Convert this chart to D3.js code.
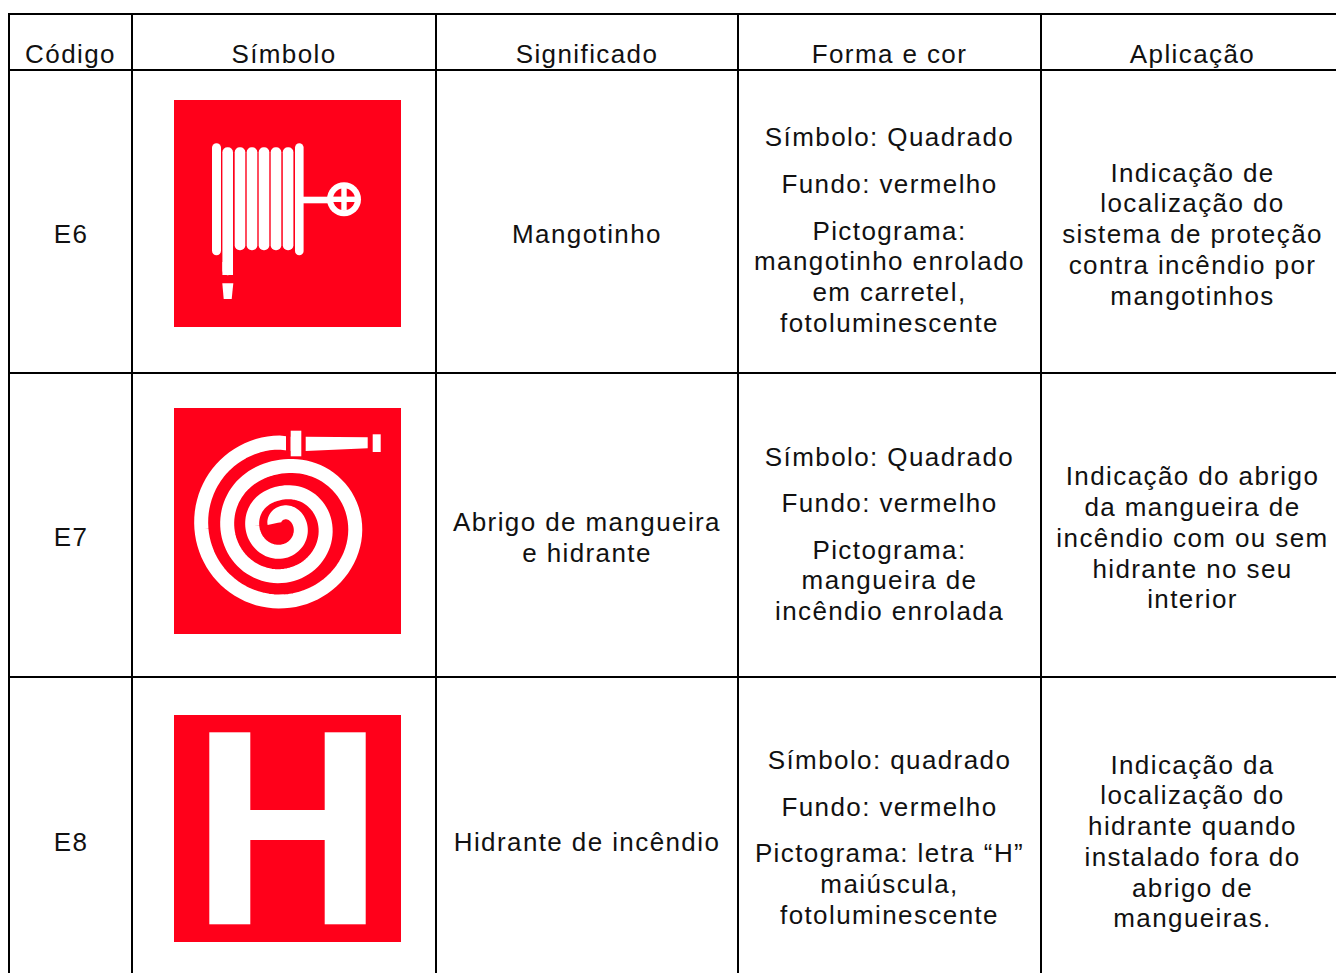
<!DOCTYPE html>
<html>
<head>
<meta charset="utf-8">
<script src="https://cdn.jsdelivr.net/npm/d3@7"></script>
<style>
  html, body { margin: 0; padding: 0; background: #fff; overflow: hidden; }
  svg { display: block; }
  text { font-family: "Liberation Sans", Arial, sans-serif; font-size: 26px; letter-spacing: 1.4px; fill: #111; text-anchor: middle; }
</style>
</head>
<body>
<svg id="chart"></svg>
<script>
const headers = ["Código", "Símbolo", "Significado", "Forma e cor", "Aplicação"];
const codes = ["E6", "E7", "E8"];
const meanings = [
    ["Mangotinho"],
    ["Abrigo de mangueira", "e hidrante"],
    ["Hidrante de incêndio"]
];
const forms = [
    [["Símbolo: Quadrado"], ["Fundo: vermelho"], ["Pictograma:", "mangotinho enrolado", "em carretel,", "fotoluminescente"]],
    [["Símbolo: Quadrado"], ["Fundo: vermelho"], ["Pictograma:", "mangueira de", "incêndio enrolada"]],
    [["Símbolo: quadrado"], ["Fundo: vermelho"], ["Pictograma: letra “H”", "maiúscula,", "fotoluminescente"]]
];
const uses = [
    ["Indicação de", "localização do", "sistema de proteção", "contra incêndio por", "mangotinhos"],
    ["Indicação do abrigo", "da mangueira de", "incêndio com ou sem", "hidrante no seu", "interior"],
    ["Indicação da", "localização do", "hidrante quando", "instalado fora do", "abrigo de", "mangueiras."]
];

const width = 1336;
const height = 973;
const red = "#ff001a";
const lineH = 30.7;
const paraH = 46.6;

const svg = d3.select("#chart").attr("width", width).attr("height", height);

// column edges, last one falls off the page
const colEdges = [9, 132, 436, 738, 1041, 1344];
const colCenter = i => (colEdges[i] + colEdges[i + 1]) / 2;
const rowY = d3.scaleBand().domain(codes).range([70, 981]);
const rowCenter = c => rowY(c) + rowY.bandwidth() / 2 + 12.3;
const symbolTop = { E6: 100, E7: 408, E8: 715 };
const symbolH = { E6: 227, E7: 226, E8: 227 };
const singleNudge = { E6: 0, E7: -1, E8: 0.5 };
const symbolW = 227;
const symbolX = 174;

// --- GRID ---
const grid = svg.append("g").attr("stroke", "#000").attr("stroke-width", 2);
colEdges.slice(0, 5).forEach(x => {
    grid.append("line").attr("x1", x).attr("x2", x).attr("y1", 14).attr("y2", height);
});
[14, 70, 373, 677].forEach(y => {
    grid.append("line").attr("x1", 8).attr("x2", width).attr("y1", y).attr("y2", y);
});

// --- TEXT ---
function blockLines(centerY, col, paragraphs, nudge) {
    // paragraphs are spaced wider than lines inside them
    const items = [];
    let y = 0;
    paragraphs.forEach(lines => {
        lines.forEach((t, i) => {
            items.push({ t, y });
            y += i < lines.length - 1 ? lineH : paraH;
        });
    });
    const total = items[items.length - 1].y;
    const shift = paragraphs.length > 1 ? -4 : (total === 0 ? nudge : 0);
    items.forEach(d => {
        svg.append("text")
            .attr("x", colCenter(col) + (col === 0 ? 0.5 : 0))
            .attr("y", centerY - total / 2 + d.y + 9 + shift)
            .text(d.t);
    });
}

headers.forEach((h, i) => {
    svg.append("text").attr("x", colCenter(i)).attr("y", 63).text(h);
});
codes.forEach((c, r) => {
    const cy = rowCenter(c);
    blockLines(cy, 0, [[c]], singleNudge[c]);
    blockLines(cy, 2, [meanings[r]], singleNudge[c]);
    blockLines(cy, 3, forms[r], 0);
    blockLines(cy, 4, [uses[r]], 0);
    svg.append("rect")
        .attr("x", symbolX).attr("y", symbolTop[c])
        .attr("width", symbolW).attr("height", symbolH[c])
        .attr("fill", red);
});

// --- PICTOGRAMS ---
function whiteRect(g, x, y, w, h, r) {
    return g.append("rect").attr("x", x).attr("y", y).attr("width", w).attr("height", h)
        .attr("rx", r || 0).attr("fill", "#fff");
}

// E6, hose reel
const reel = svg.append("g");
whiteRect(reel, 212, 143.3, 9, 112, 4.5);
whiteRect(reel, 222.4, 147.3, 10.6, 128, 5);
reel.append("rect").attr("x", 222.4).attr("y", 262).attr("width", 10.6).attr("height", 13).attr("fill", "#fff");
[234.7, 246.7, 258.7, 270.7, 282.8].forEach(x => whiteRect(reel, x, 147.3, 10.6, 103, 5));
whiteRect(reel, 295, 143.3, 8.6, 112, 4.3);
whiteRect(reel, 303, 196.7, 28, 6.6);
reel.append("circle").attr("cx", 344).attr("cy", 199.3).attr("r", 17).attr("fill", "#fff");
reel.append("circle").attr("cx", 344).attr("cy", 199.3).attr("r", 11).attr("fill", red);
whiteRect(reel, 341.3, 188, 5.4, 22.6);
whiteRect(reel, 332.7, 196.6, 22.6, 5.4);
reel.append("path").attr("d", "M222.3,283.3H233.3L231.7,299H223.7Z").attr("fill", "#fff");

// E7, rolled hose: radius per 45 degrees of turn, from the outside in
const spiralRadius = [81, 80, 78, 78, 78, 78, 77, 67, 55, 53, 52, 53, 53, 51, 46, 38, 29, 28, 27, 28, 29, 26, 20, 15, 9, 6, 5];
const spiralR = d3.interpolateBasis(spiralRadius);
const spiralTurns = (spiralRadius.length - 1) / 8;
const spiralPts = [[292, 444]].concat(d3.range(0, 1.0001, 1 / 300).map(t => {
    const a = t * spiralTurns * 2 * Math.PI;
    const r = spiralR(t);
    return [279.5 - r * Math.sin(a), 523.5 - r * Math.cos(a)];
}));
const hose = svg.append("g");
hose.append("path")
    .attr("d", d3.line()(spiralPts))
    .attr("fill", "none").attr("stroke", "#fff").attr("stroke-width", 14);
hose.append("rect").attr("x", 286).attr("y", 428).attr("width", 4.7).attr("height", 30).attr("fill", red);
whiteRect(hose, 290.7, 430.7, 10.6, 25.6);
hose.append("path").attr("d", "M305.7,436.7L367.7,437.3V448.3L305.7,451Z").attr("fill", "#fff");
whiteRect(hose, 372.7, 434.3, 8, 17.7);

// E8, letter H
const letter = svg.append("g");
whiteRect(letter, 209.3, 732.3, 41, 192);
whiteRect(letter, 324.7, 732.3, 41, 192);
whiteRect(letter, 250, 810, 75, 30);
</script>
</body>
</html>
